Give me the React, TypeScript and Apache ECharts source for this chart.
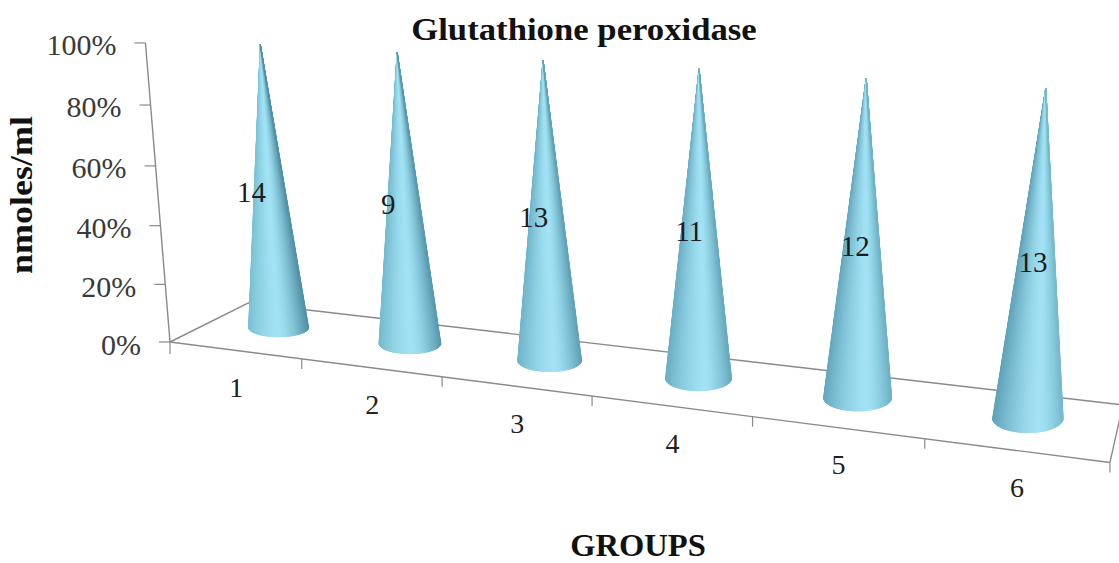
import React, { useEffect, useRef } from "react";
import * as echarts from "echarts";

const categories = ["1", "2", "3", "4", "5", "6"];
const groupValues = [14, 9, 13, 11, 12, 13];
const percentShare = [100, 100, 100, 100, 100, 100];
const yTicks = [0, 20, 40, 60, 80, 100];

const FONT = '"Liberation Serif", "Times New Roman", serif';
const LINE = "#8a8a8a";

// perspective of the chart's box: unit box (U along groups, D depth, H height) to the page
function project(U: number, D: number, H: number) {
  const w = 1 - 0.185 * U + 0.0771 * D - 0.0452 * H;
  return {
    x: (734.6 * U + 97.1 * D - 31.1 * H + 170) / w,
    y: (34.9 * U - 15.6 * D - 301 * H + 342) / w,
    w,
  };
}

function unit(params: any, api: any, i: number, v: number) {
  const cs = params.coordSys;
  const p = api.coord([i, v]);
  return { U: (p[0] - cs.x) / cs.width, H: (cs.y + cs.height - p[1]) / cs.height, band: 1 / categories.length };
}

function mix(a: number[], b: number[], t: number) {
  const c = a.map((v, k) => Math.round(v + (b[k] - v) * t));
  return `rgb(${c[0]},${c[1]},${c[2]})`;
}

function line(a: any, b: any, width = 1.4) {
  return {
    type: "line",
    shape: { x1: a.x, y1: a.y, x2: b.x, y2: b.y },
    style: { stroke: LINE, lineWidth: width },
  };
}

function renderFrame(params: any, api: any) {
  const c = [
    project(0, 0, 0),
    project(1, 0, 0),
    project(1, 1, 0),
    project(0, 1, 0),
    project(0, 0, 1),
  ];
  return {
    type: "group",
    children: [line(c[0], c[1]), line(c[1], c[2]), line(c[2], c[3]), line(c[3], c[0]), line(c[0], c[4])],
  };
}

function renderYTick(params: any, api: any) {
  const v = api.value(0);
  const { H } = unit(params, api, 0, v);
  const p = project(0, 0, H);
  const left = { x: p.x - 11, y: p.y };
  return {
    type: "group",
    children: [
      line(left, p, 1.2),
      {
        type: "text",
        x: left.x - 18,
        y: p.y + 2,
        style: {
          text: `${v}%`,
          align: "right",
          verticalAlign: "middle",
          font: `30px ${FONT}`,
          fill: "#3a3a3a",
        },
      },
    ],
  };
}

function renderXTick(params: any, api: any) {
  const i = api.value(0);
  const { U, band } = unit(params, api, i, 0);
  const mid = project(U, 0, 0);
  const start = project(U - band / 2, 0, 0);
  const end = project(U + band / 2, 0, 0);
  const kids: any[] = [line(end, { x: end.x, y: end.y + 10 }, 1.2)];
  if (i === 0) kids.push(line(start, { x: start.x, y: start.y + 12 }, 1.2));
  kids.push({
    type: "text",
    x: mid.x + 1.5,
    y: mid.y + 37,
    style: {
      text: categories[i],
      align: "center",
      verticalAlign: "middle",
      font: `28px ${FONT}`,
      fill: "#222",
    },
  });
  return { type: "group", children: kids };
}

function renderCone(params: any, api: any) {
  const i = api.value(0);
  const v = api.value(1);
  const { U, H } = unit(params, api, i, v);
  const D = 0.57;
  const base = project(U, D, 0);
  const apex = project(U, D, H * 0.97);
  const rx = 30.8 / base.w;
  const ry = 9 + i;
  const cy = base.y + 1;
  const f = i / (categories.length - 1);
  const hi = [162, 226, 244];
  const leftEdge = [122 - 26 * f, 192 - 30 * f, 212 - 28 * f];
  const rightEdge = [82 + 36 * f, 146 + 40 * f, 168 + 38 * f];
  const peak = 0.02 + 0.3 * f;
  const n = 40;
  const outline: number[][] = [[apex.x, apex.y]];
  for (let k = 0; k <= n; k++) {
    const a = Math.PI - (k / n) * Math.PI;
    outline.push([base.x + rx * Math.cos(a), cy + ry * Math.sin(a)]);
  }
  const kids: any[] = [
    { type: "polygon", shape: { points: outline }, style: { fill: "#8fd0e4", stroke: "#8fd0e4", lineWidth: 0.5 } },
  ];
  for (let k = 0; k < n; k++) {
    const t = (outline[k + 1][0] + outline[k + 2][0] - 2 * base.x) / (2 * rx);
    const s = t < peak ? (peak - t) / (peak + 1) : (t - peak) / (1 - peak);
    const col = mix(hi, t < peak ? leftEdge : rightEdge, Math.pow(Math.min(1, s), 1.5));
    kids.push({
      type: "polygon",
      shape: { points: [outline[0], outline[k + 1], outline[k + 2]] },
      style: { fill: col, stroke: col, lineWidth: 1 },
    });
  }
  return { type: "group", children: kids };
}

function renderValueLabel(params: any, api: any) {
  const i = api.value(0);
  const { U } = unit(params, api, i, 0);
  const p = project(U, 0.55, 0.5);
  return {
    type: "text",
    x: p.x - 16.5 + 2.6 * i,
    y: p.y + 7 + 0.5 * i,
    style: {
      text: String(api.value(1)),
      align: "center",
      verticalAlign: "middle",
      font: `29px ${FONT}`,
      fill: "#1c1c1c",
    },
  };
}

function caption(text: string, x: number, y: number, size: number, scaleX: number, rotation = 0) {
  return {
    type: "text",
    x,
    y,
    scaleX,
    rotation,
    style: { text, align: "center", verticalAlign: "middle", font: `bold ${size}px ${FONT}`, fill: "#111" },
  };
}

export default function App() {
  const ref = useRef<HTMLDivElement>(null);
  useEffect(() => {
    const chart = echarts.init(ref.current!, undefined, { renderer: "svg" });
    chart.setOption({
      animation: false,
      backgroundColor: "#fff",
      grid: { left: 170, right: 9, top: 43, bottom: 221 },
      xAxis: { type: "category", data: categories, show: false },
      yAxis: { type: "value", min: 0, max: 100, interval: 20, show: false },
      graphic: [
        caption("Glutathione peroxidase", 584, 30, 31, 1.12),
        caption("GROUPS", 638, 546, 31, 1.05),
        caption("nmoles/ml", 21, 195, 31, 1.16, Math.PI / 2),
      ],
      series: [
        { type: "custom", name: "frame", data: [[0]], renderItem: renderFrame, clip: false, silent: true, z: 1 },
        { type: "custom", name: "y ticks", data: yTicks.map((t) => [t]), renderItem: renderYTick, clip: false, silent: true, z: 1 },
        { type: "custom", name: "x ticks", data: categories.map((_, i) => [i]), renderItem: renderXTick, clip: false, silent: true, z: 1 },
        { type: "custom", name: "cones", data: percentShare.map((v, i) => [i, v]), renderItem: renderCone, clip: false, silent: true, z: 2 },
        { type: "custom", name: "values", data: groupValues.map((v, i) => [i, v]), renderItem: renderValueLabel, clip: false, silent: true, z: 3 },
      ],
    });
    return () => chart.dispose();
  }, []);
  return <div ref={ref} style={{ position: "absolute", left: 0, top: 0, width: 1119, height: 563 }} />;
}
